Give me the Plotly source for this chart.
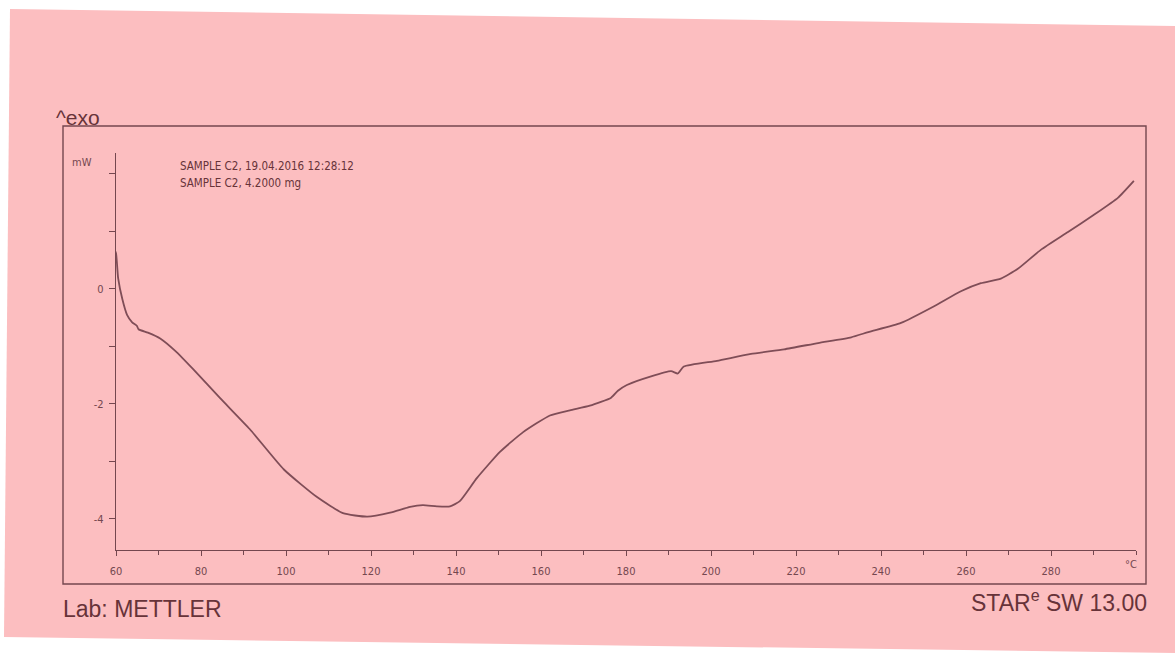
import plotly.graph_objects as go

# DSC heating run, heat flow (mW) versus sample temperature (°C)
temperature_c = [59.3, 59.6, 60.0, 60.5, 61.5, 62.6, 63.8, 64.9, 65.3, 67.5, 70.4, 74.0,
                 78.1, 84.5, 91.5, 99.5, 107.3, 113.4, 119.1, 124.5, 129.2, 132.2, 135.5,
                 138.6, 140.9, 144.9, 150.4, 155.8, 162.1, 166.8, 171.5, 176.5, 178.1,
                 180.2, 185.9, 190.6, 192.2, 193.6, 201.4, 209.4, 217.2, 225.2, 233.0,
                 237.0, 244.7, 252.5, 258.8, 263.5, 268.2, 272.2, 277.6, 284.0, 290.1,
                 295.8, 299.5]
heat_flow_mw = [0.40, 0.68, 0.62, 0.19, -0.18, -0.45, -0.58, -0.64, -0.70, -0.76, -0.86,
                -1.08, -1.39, -1.90, -2.44, -3.14, -3.62, -3.90, -3.96, -3.89, -3.79, -3.76,
                -3.78, -3.78, -3.69, -3.29, -2.83, -2.49, -2.20, -2.11, -2.03, -1.89, -1.77,
                -1.67, -1.52, -1.43, -1.47, -1.35, -1.25, -1.13, -1.05, -0.94, -0.84, -0.75,
                -0.59, -0.30, -0.04, 0.10, 0.18, 0.35, 0.68, 0.99, 1.29, 1.59, 1.88]

x_tick_vals = list(range(60, 281, 20))
x_tick_text = [str(v) for v in x_tick_vals]
y_tick_vals = [-4, -2, 0]
y_tick_text = ["-4", "-2", "0"]

header_lines = ["SAMPLE C2, 19.04.2016 12:28:12", "SAMPLE C2, 4.2000 mg"]

W, H = 1175, 653
L, R, T, B = 116, 1136, 153, 550
PAPER = "#fcbec0"
INK = "#74474f"
TEXT = "#673339"
SMALL_FONT = "DejaVu Sans Condensed, DejaVu Sans"
BIG_FONT = "Liberation Sans, Arial"


def px(x):
    return (x - L) / (R - L)


def py(y):
    return (B - y) / (B - T)


fig = go.Figure()
fig.add_trace(go.Scatter(
    x=temperature_c, y=heat_flow_mw, mode="lines",
    line=dict(color="#7f4d57", width=1.8, shape="spline", smoothing=0.5),
    hoverinfo="skip", showlegend=False))

shapes = [
    # sheet of recorder paper
    dict(type="path", xref="paper", yref="paper", layer="below",
         path=f"M {px(10)},{py(9)} L {px(1175)},{py(26)} L {px(1175)},{py(653)} "
              f"L {px(4)},{py(637)} Z",
         fillcolor=PAPER, line=dict(width=0)),
    # outer chart frame
    dict(type="rect", xref="paper", yref="paper",
         x0=px(63), x1=px(1146), y0=py(584), y1=py(126),
         line=dict(color=INK, width=1.4)),
]

annotations = [
    dict(text="^exo", x=px(54), y=py(117), xanchor="left", yanchor="middle",
         font=dict(family=BIG_FONT, size=21, color=TEXT)),
    dict(text="mW", x=px(94), y=py(162), xanchor="right", yanchor="middle",
         font=dict(family=SMALL_FONT, size=11, color=INK)),
    dict(text="°C", x=px(1131), y=py(564), xanchor="center", yanchor="middle",
         font=dict(family=SMALL_FONT, size=11, color=INK)),
    dict(text="Lab: METTLER", x=px(61), y=py(609), xanchor="left", yanchor="middle",
         font=dict(family=BIG_FONT, size=23, color=TEXT)),
    dict(text="STAR<sup>e</sup> SW 13.00", x=px(1149), y=py(601), xanchor="right",
         yanchor="middle",
         font=dict(family=BIG_FONT, size=23, color=TEXT)),
]
# two-line sample header
for i, line in enumerate(header_lines):
    annotations.append(dict(text=line, x=px(178), y=py(166 + 17 * i), xanchor="left",
                            yanchor="middle",
                            font=dict(family=SMALL_FONT, size=11.5, color=TEXT)))
for a in annotations:
    a.update(xref="paper", yref="paper", showarrow=False)

axis_common = dict(showgrid=False, zeroline=False, showline=True, linecolor=INK,
                   linewidth=1.4, ticks="outside", tickcolor=INK, tickwidth=1.1,
                   tickfont=dict(family=SMALL_FONT, size=11, color=INK))

fig.update_layout(
    width=W, height=H,
    margin=dict(l=L, r=W - R, t=T, b=H - B),
    paper_bgcolor="white", plot_bgcolor="rgba(0,0,0,0)",
    xaxis=dict(range=[60, 300], tickmode="array", tickvals=x_tick_vals,
               ticktext=x_tick_text, ticklen=5, ticklabelstandoff=6,
               minor=dict(tick0=60, dtick=10, ticks="outside", ticklen=4,
                          tickcolor=INK, tickwidth=1.1, showgrid=False),
               **axis_common),
    yaxis=dict(range=[-4.54, 2.365], tickmode="array", tickvals=y_tick_vals,
               ticktext=y_tick_text, ticklen=6, ticklabelstandoff=3,
               minor=dict(tick0=0, dtick=1, ticks="outside", ticklen=6,
                          tickcolor=INK, tickwidth=1.1, showgrid=False),
               **axis_common),
    shapes=shapes, annotations=annotations,
)

fig.write_html("out.html")
